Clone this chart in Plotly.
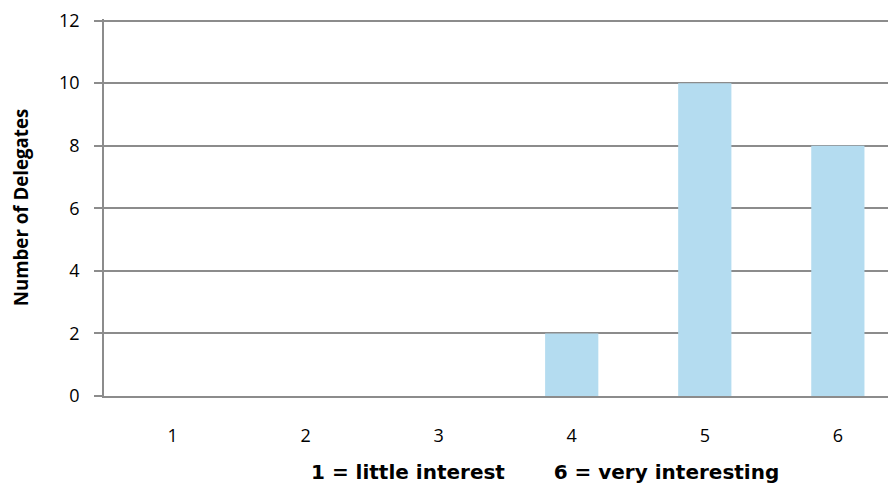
import plotly.graph_objects as go

categories = [1, 2, 3, 4, 5, 6]
tick_labels = ["1", "2", "3", "4", "5", "6"]
delegates = [0, 0, 0, 2, 10, 8]
y_ticks = [0, 2, 4, 6, 8, 10, 12]
x_title = "1 = little interest" + "\u00a0" * 7 + "6 = very interesting"
y_title = "Number of Delegates"

grid = "#8c8c8c"
fig = go.Figure(go.Bar(x=categories, y=delegates, width=0.4,
                       marker=dict(color="#b4dcf0", line=dict(width=0))))

fig.update_layout(
    width=888, height=478,
    margin=dict(l=96, r=0, t=11, b=90),
    plot_bgcolor="white", paper_bgcolor="white",
    showlegend=False,
    font=dict(family="Open Sans", color="black"),
)
fig.add_annotation(
    text=x_title, xref="paper", yref="paper", x=0.557, y=0,
    xanchor="center", yanchor="middle", yshift=-76, showarrow=False,
    font=dict(family="DejaVu Sans", size=20, weight="bold", color="black"),
)
fig.update_xaxes(
    range=[0.485, 6.437], tickvals=categories, ticktext=tick_labels,
    showgrid=False, showline=True, linecolor=grid, linewidth=1.5,
    ticks="", ticklabelstandoff=23, tickfont=dict(size=18), automargin=False,
)
fig.update_yaxes(
    range=[0, 12.05], tickvals=y_ticks, showgrid=True, gridcolor=grid, gridwidth=1.5,
    showline=True, linecolor=grid, linewidth=1.5, zeroline=False,
    ticks="outside", ticklen=8, tickcolor=grid, tickwidth=1.5, ticklabelstandoff=11,
    tickfont=dict(size=18), ticklabeloverflow="allow", automargin=False,
    title=dict(text=y_title,
               font=dict(family="Open Sans", size=18.7, weight="bold"), standoff=31),
)
fig.write_html("out.html")
